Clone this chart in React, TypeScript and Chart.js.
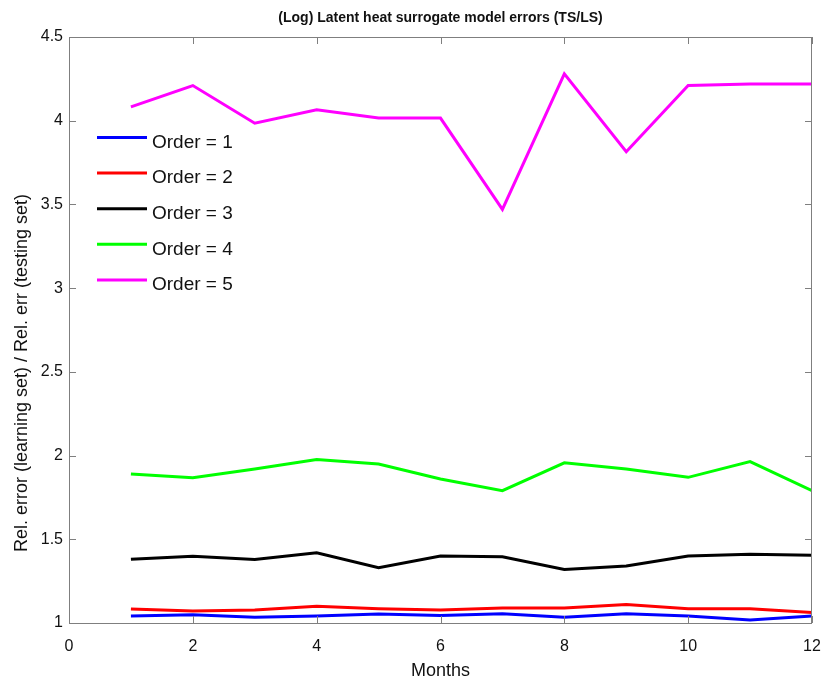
import React, { useEffect, useRef } from "react";
import { Chart, registerables } from "chart.js";

Chart.register(...registerables);

const months = [1, 2, 3, 4, 5, 6, 7, 8, 9, 10, 11, 12];
const order1 = [1.042, 1.05, 1.034, 1.042, 1.054, 1.045, 1.055, 1.034, 1.055, 1.042, 1.018, 1.042];
const order2 = [1.083, 1.071, 1.077, 1.1, 1.085, 1.077, 1.09, 1.09, 1.11, 1.085, 1.085, 1.062];
const order3 = [1.381, 1.399, 1.379, 1.42, 1.33, 1.4, 1.395, 1.32, 1.34, 1.4, 1.41, 1.405];
const order4 = [1.89, 1.867, 1.92, 1.976, 1.95, 1.86, 1.79, 1.957, 1.92, 1.87, 1.964, 1.79];
const order5 = [4.083, 4.21, 3.985, 4.065, 4.016, 4.016, 3.47, 4.28, 3.815, 4.21, 4.22, 4.22];

const seriesLabels = ["Order = 1", "Order = 2", "Order = 3", "Order = 4", "Order = 5"];
const seriesColors = ["#0000ff", "#ff0000", "#000000", "#00ff00", "#ff00ff"];
const seriesValues = [order1, order2, order3, order4, order5];

const xTicks = [0, 2, 4, 6, 8, 10, 12];
const yTicks = [1, 1.5, 2, 2.5, 3, 3.5, 4, 4.5];

const titleText = "(Log) Latent heat surrogate model errors (TS/LS)";
const xTitle = "Months";
const yTitle = "Rel. error (learning set) / Rel. err (testing set)";

const FONT = "'Liberation Sans', Arial, Helvetica, sans-serif";

const frameAndLegend = {
  id: "frameAndLegend",
  afterDatasetsDraw(chart: any) {
    const { ctx, chartArea, scales } = chart;
    const { left, right, top, bottom } = chartArea;
    ctx.save();
    // frame
    ctx.strokeStyle = "#7f7f7f";
    ctx.lineWidth = 1;
    ctx.strokeRect(left + 0.5, top + 0.5, right - left - 1, bottom - top);
    // inward ticks
    const tl = 7;
    ctx.beginPath();
    xTicks.forEach((v) => {
      const px = Math.round(scales.x.getPixelForValue(v)) + 0.5;
      ctx.moveTo(px, bottom);
      ctx.lineTo(px, bottom - tl);
      ctx.moveTo(px, top);
      ctx.lineTo(px, top + tl);
    });
    yTicks.forEach((v) => {
      const py = Math.round(scales.y.getPixelForValue(v)) + 0.5;
      ctx.moveTo(left, py);
      ctx.lineTo(left + tl, py);
      ctx.moveTo(right, py);
      ctx.lineTo(right - tl, py);
    });
    ctx.stroke();

    // legend (inside, top-left, no box)
    const lx0 = left + 28;
    const lx1 = left + 78;
    const tx = left + 83;
    const y0 = top + 100.5;
    const dy = 35.6;
    chart.data.datasets.forEach((ds: any, i: number) => {
      const y = y0 + i * dy;
      ctx.strokeStyle = ds.borderColor;
      ctx.lineWidth = 3;
      ctx.beginPath();
      ctx.moveTo(lx0, y);
      ctx.lineTo(lx1, y);
      ctx.stroke();
      ctx.fillStyle = "#111";
      ctx.font = `19px ${FONT}`;
      ctx.textAlign = "left";
      ctx.textBaseline = "middle";
      ctx.fillText(ds.label, tx, y + 5);
    });

    // title centered over axes
    ctx.fillStyle = "#111";
    ctx.font = `bold 14px ${FONT}`;
    ctx.textAlign = "center";
    ctx.textBaseline = "middle";
    ctx.fillText(titleText, (left + right) / 2, 18);

    // y axis title (rotated)
    ctx.translate(22.5, top + 336);
    ctx.rotate(-Math.PI / 2);
    ctx.font = `18px ${FONT}`;
    ctx.fillText(yTitle, 0, 0);
    ctx.restore();
  },
};

export default function App() {
  const canvasRef = useRef<HTMLCanvasElement>(null);

  useEffect(() => {
    const canvas = canvasRef.current;
    if (!canvas) return;
    const chart = new Chart(canvas, {
      type: "line",
      data: {
        datasets: seriesValues.map((vals, i) => ({
          label: seriesLabels[i],
          data: months.map((m, j) => ({ x: m, y: vals[j] })),
          borderColor: seriesColors[i],
          backgroundColor: seriesColors[i],
          borderWidth: 3,
          pointRadius: 0,
          tension: 0,
          fill: false,
        })),
      },
      options: {
        animation: false,
        responsive: false,
        devicePixelRatio: 1,
        layout: { padding: { top: 37, right: 13, left: 0, bottom: 0 } },
        plugins: {
          legend: { display: false },
          title: { display: false },
          tooltip: { enabled: false },
        },
        scales: {
          x: {
            type: "linear",
            min: 0,
            max: 12,
            afterBuildTicks: (scale: any) => {
              scale.ticks = xTicks.map((v) => ({ value: v }));
            },
            afterFit: (scale: any) => {
              scale.height = 57;
              scale.paddingLeft = 0;
              scale.paddingRight = 0;
            },
            grid: { display: false, drawTicks: false },
            border: { display: false },
            ticks: {
              padding: 14,
              color: "#111",
              font: { family: FONT, size: 16 },
              maxRotation: 0,
            },
            title: {
              display: true,
              text: xTitle,
              color: "#111",
              font: { family: FONT, size: 18 },
              padding: { top: 0, bottom: -2 },
            },
          },
          y: {
            type: "linear",
            min: 1,
            max: 4.5,
            afterBuildTicks: (scale: any) => {
              scale.ticks = yTicks.map((v) => ({ value: v }));
            },
            afterFit: (scale: any) => {
              scale.width = 69;
            },
            grid: { display: false, drawTicks: false },
            border: { display: false },
            ticks: {
              padding: 6,
              color: "#111",
              font: { family: FONT, size: 16 },
              callback: (v: any) => String(v),
            },
            title: { display: false },
          },
        },
      },
      plugins: [frameAndLegend],
    });
    return () => chart.destroy();
  }, []);

  return (
    <div style={{ position: "absolute", left: 0, top: 0, width: 825, height: 680, background: "#fff" }}>
      <canvas ref={canvasRef} width={825} height={680} style={{ width: 825, height: 680, display: "block" }} />
    </div>
  );
}
